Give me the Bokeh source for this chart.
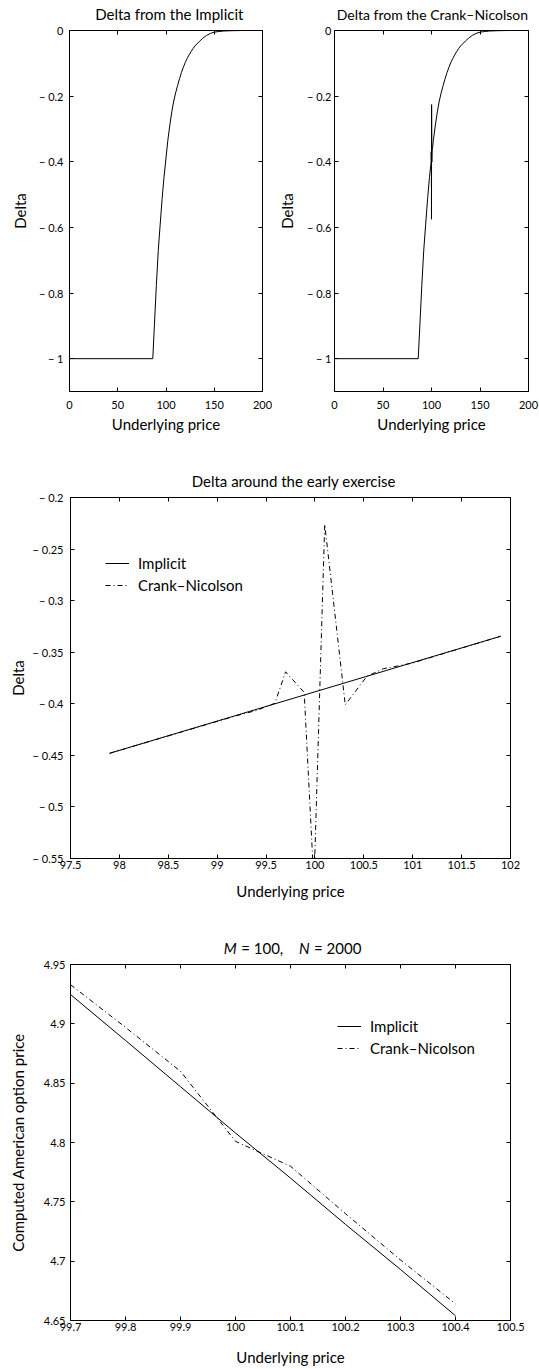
from bokeh.plotting import figure
from bokeh.models import (Range1d, FixedTicker, LinearAxis, Label, Legend, LegendItem,
                          CustomJSTickFormatter)
from bokeh.layouts import column, row
from bokeh.embed import file_html
from bokeh.resources import INLINE

FONT = "Lato"

# ---------------- data ----------------
# Delta (full range) from the implicit scheme
implicit_x = [0, 86.3, 88, 90, 92, 94, 96, 97.9, 100, 101.9, 104, 106, 108, 110, 112, 114,
              116, 118, 120, 122, 124, 126, 128, 130, 132, 135, 138, 142, 146, 150, 155,
              160, 170, 180, 200]
implicit_delta = [-1, -1, -0.898, -0.777, -0.67, -0.59, -0.512, -0.448, -0.3884, -0.3345,
                  -0.288, -0.248, -0.215, -0.19, -0.168, -0.147, -0.128, -0.112, -0.097,
                  -0.085, -0.074, -0.064, -0.055, -0.047, -0.041, -0.032, -0.024, -0.015,
                  -0.009, -0.005, -0.003, -0.0015, -0.0005, 0, 0]

# Delta from Crank-Nicolson
cn_x = [0, 86.3, 88, 90, 92, 94, 96, 97.9, 99.2, 99.4, 99.59, 99.7, 99.89, 99.99, 100.1,
        100.31, 100.53, 100.7, 100.84, 101.0, 101.9, 104, 106, 108, 110, 112, 114, 116,
        118, 120, 122, 124, 126, 128, 130, 132, 135, 138, 142, 146, 150, 155, 160, 170,
        180, 200]
cn_delta = [-1, -1, -0.898, -0.777, -0.67, -0.59, -0.512, -0.448, -0.4115, -0.4065,
            -0.3995, -0.369, -0.389, -0.575, -0.226, -0.401, -0.3735, -0.366, -0.3635,
            -0.3604, -0.3345, -0.288, -0.248, -0.215, -0.19, -0.168, -0.147, -0.128,
            -0.112, -0.097, -0.085, -0.074, -0.064, -0.055, -0.047, -0.041, -0.032,
            -0.024, -0.015, -0.009, -0.005, -0.003, -0.0015, -0.0005, 0, 0]

# zoom window of the middle panel
zoom_lo, zoom_hi = 97.9, 101.9

# option prices (bottom panel)
price_x = [99.7, 99.8, 99.9, 100.0, 100.1, 100.2, 100.3, 100.4]
price_implicit = [4.9247, 4.886, 4.847, 4.808, 4.770, 4.731, 4.693, 4.654]
price_cn = [4.933, 4.897, 4.860, 4.801, 4.780, 4.740, 4.701, 4.664]

# ticks
top_xticks = [0, 50, 100, 150, 200]
top_xlabels = ["0", "50", "100", "150", "200"]
top_yticks = [0, -0.2, -0.4, -0.6, -0.8, -1]
top_ylabels = ["0", "\u2212 0.2", "\u2212 0.4", "\u2212 0.6", "\u2212 0.8", "\u2212 1"]
mid_xticks = [97.5, 98, 98.5, 99, 99.5, 100, 100.5, 101, 101.5, 102]
mid_xlabels = ["97.5", "98", "98.5", "99", "99.5", "100", "100.5", "101", "101.5", "102"]
mid_yticks = [-0.2, -0.25, -0.3, -0.35, -0.4, -0.45, -0.5, -0.55]
mid_ylabels = ["\u2212 0.2", "\u2212 0.25", "\u2212 0.3", "\u2212 0.35", "\u2212 0.4",
               "\u2212 0.45", "\u2212 0.5", "\u2212 0.55"]
bot_xticks = [99.7, 99.8, 99.9, 100.0, 100.1, 100.2, 100.3, 100.4, 100.5]
bot_xlabels = ["99.7", "99.8", "99.9", "100", "100.1", "100.2", "100.3", "100.4", "100.5"]
bot_yticks = [4.65, 4.7, 4.75, 4.8, 4.85, 4.9, 4.95]
bot_ylabels = ["4.65", "4.7", "4.75", "4.8", "4.85", "4.9", "4.95"]

DASHDOT = "5 3 1 3"


def fmt(tick_values, tick_texts):
    return CustomJSTickFormatter(args=dict(tv=tick_values, tl=tick_texts), code="""
        for (let i = 0; i < tv.length; i++) {
            if (Math.abs(tv[i] - tick) < 1e-9) return tl[i];
        }
        return "";
    """)


def style_axis(ax, tick_values, tick_texts, standoff, label=None, label_standoff=0, show=True):
    ax.ticker = FixedTicker(ticks=tick_values)
    ax.major_tick_in = 4
    ax.major_tick_out = 0
    ax.minor_tick_line_color = None
    ax.axis_line_color = "black"
    ax.major_tick_line_color = "black"
    if show:
        ax.formatter = fmt(tick_values, tick_texts)
        ax.major_label_text_font = FONT
        ax.major_label_text_font_size = "11px"
        ax.major_label_text_color = "black"
        ax.major_label_standoff = standoff
    else:
        ax.formatter = fmt(tick_values, [""] * len(tick_values))
        ax.major_label_text_font_size = "1px"
        ax.major_label_text_alpha = 0
        ax.major_label_standoff = 0
    if label is not None:
        ax.axis_label = label
        ax.axis_label_text_font = FONT
        ax.axis_label_text_font_size = "15px"
        ax.axis_label_text_font_style = "normal"
        ax.axis_label_text_color = "black"
        ax.axis_label_standoff = label_standoff


def make_fig(width, height, xr, yr, bl, br, bt, bb):
    p = figure(width=width, height=height, x_range=Range1d(*xr), y_range=Range1d(*yr),
               output_backend="svg", toolbar_location=None,
               min_border_left=bl, min_border_right=br, min_border_top=bt,
               min_border_bottom=bb)
    p.xgrid.visible = False
    p.ygrid.visible = False
    p.outline_line_color = "black"
    p.outline_line_width = 1
    p.background_fill_color = "white"
    p.border_fill_color = "white"
    return p


def add_mirror(p, xticks, yticks):
    top = LinearAxis()
    style_axis(top, xticks, None, 0, show=False)
    p.add_layout(top, "above")
    right = LinearAxis()
    style_axis(right, yticks, None, 0, show=False)
    p.add_layout(right, "right")


def title_fig(width, height, pieces, size="15px"):
    """Strip above a panel carrying its title (frame is aligned with the panel's frame).
    pieces = (x from frame left, text-box bottom from strip bottom, text, style, align)."""
    t = figure(width=width, height=height, x_range=Range1d(0, 1), y_range=Range1d(0, 1),
               x_axis_type=None, y_axis_type=None, output_backend="svg",
               toolbar_location=None, min_border=0)
    t.outline_line_color = None
    t.xgrid.visible = False
    t.ygrid.visible = False
    for x, y, text, style, align in pieces:
        t.add_layout(Label(x=x, y=y, x_units="screen", y_units="screen", text=text,
                           text_align=align, text_baseline="bottom", text_font=FONT,
                           text_font_size=size, text_font_style=style,
                           text_color="black"))
    return t


# ---------------- top-left ----------------
t1 = title_fig(272, 23, [(99.8, 0.5, "Delta from the Implicit", "normal", "center")])
p1 = make_fig(272, 417, (0, 200), (-1.1, 0), 69, 10, 7, 49)
p1.line(implicit_x, implicit_delta, line_color="black", line_width=1)
style_axis(p1.xaxis[0], top_xticks, top_xlabels, 9, "Underlying price", 3)
style_axis(p1.yaxis[0], top_yticks, top_ylabels, 6, "Delta", 7)
add_mirror(p1, top_xticks, top_yticks)

# ---------------- top-right ----------------
t2 = title_fig(267, 23, [(193.5, 0.8, "Delta from the Crank\u2013Nicolson", "normal", "right")],
               size="14px")
p2 = make_fig(267, 417, (0, 200), (-1.1, 0), 62, 11, 7, 49)
p2.line(cn_x, cn_delta, line_color="black", line_width=1)
style_axis(p2.xaxis[0], top_xticks, top_xlabels, 9, "Underlying price", 3)
style_axis(p2.yaxis[0], top_yticks, top_ylabels, 3, "Delta", 8)
add_mirror(p2, top_xticks, top_yticks)

# ---------------- middle ----------------
mi = [(x, y) for x, y in zip(implicit_x, implicit_delta) if zoom_lo <= x <= zoom_hi]
mc = [(x, y) for x, y in zip(cn_x, cn_delta) if zoom_lo <= x <= zoom_hi]
t3 = title_fig(539, 50, [(223.3, 0.5, "Delta around the early exercise", "normal", "center")])
p3 = make_fig(539, 415, (97.5, 102), (-0.55, -0.2), 70, 24, 7, 47)
r_cn = p3.line([a for a, _ in mc], [b for _, b in mc], line_color="black", line_width=1,
               line_dash=DASHDOT)
r_im = p3.line([a for a, _ in mi], [b for _, b in mi], line_color="black", line_width=1)
style_axis(p3.xaxis[0], mid_xticks, mid_xlabels, 2, "Underlying price", 10)
style_axis(p3.yaxis[0], mid_yticks, mid_ylabels, 7, "Delta", 3)
add_mirror(p3, mid_xticks, mid_yticks)
leg3 = Legend(items=[LegendItem(label="Implicit", renderers=[r_im]),
                     LegendItem(label="Crank\u2013Nicolson", renderers=[r_cn])],
              location=(35, 263), padding=0, margin=0, spacing=2, glyph_width=24,
              glyph_height=20, label_height=20, label_standoff=9,
              border_line_alpha=0, background_fill_alpha=0,
              label_text_font=FONT, label_text_font_size="15px", label_text_color="black")
p3.add_layout(leg3)

# ---------------- bottom ----------------
t4 = title_fig(539, 52, [(153.3, 0.8, "M", "italic", "left"),
                         (170.7, 0.8, "= 100,", "normal", "left"),
                         (228.5, 0.8, "N", "italic", "left"),
                         (243.5, 0.8, "= 2000", "normal", "left")])
p4 = make_fig(539, 411, (99.7, 100.5), (4.65, 4.95), 66, 29, 7, 45)
r4i = p4.line(price_x, price_implicit, line_color="black", line_width=1)
r4c = p4.line(price_x, price_cn, line_color="black", line_width=1, line_dash=DASHDOT)
style_axis(p4.xaxis[0], bot_xticks, bot_xlabels, 2, "Underlying price", 14)
style_axis(p4.yaxis[0], bot_yticks, bot_ylabels, 5, "Computed American option price", 14)
add_mirror(p4, bot_xticks, bot_yticks)
leg4 = Legend(items=[LegendItem(label="Implicit", renderers=[r4i]),
                     LegendItem(label="Crank\u2013Nicolson", renderers=[r4c])],
              location=(267, 262), padding=0, margin=0, spacing=2, glyph_width=24,
              glyph_height=20, label_height=20, label_standoff=9,
              border_line_alpha=0, background_fill_alpha=0,
              label_text_font=FONT, label_text_font_size="15px", label_text_color="black")
p4.add_layout(leg4)

layout = column(row(column(t1, p1, spacing=0), column(t2, p2, spacing=0), spacing=0),
                t3, p3, t4, p4, spacing=0)
open("out.html", "w").write(file_html(layout, INLINE))
